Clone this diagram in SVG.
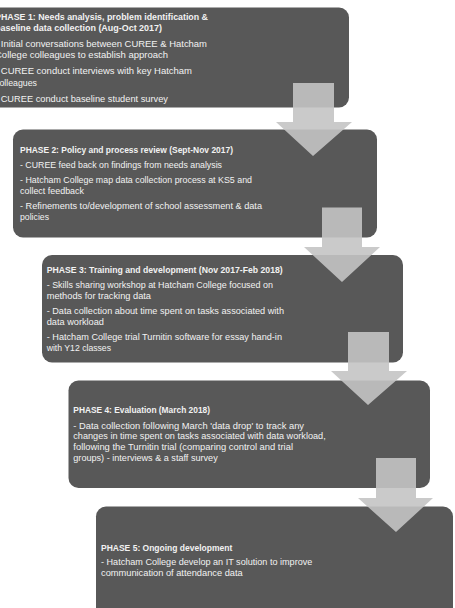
<svg xmlns="http://www.w3.org/2000/svg" width="455" height="608" viewBox="0 0 455 608">
<style>
.box{fill:#585858;}
.arr{fill:#c4c4c4;fill-opacity:0.9;}
text{font-family:"Liberation Sans",Arial,sans-serif;fill:#f2f2f2;}
.t{font-weight:bold;font-size:8.7px;}
.b{font-size:9px;}
.t1{font-weight:bold;font-size:9px;}
.b1{font-size:9.5px;}
</style>
<rect width="455" height="608" fill="#ffffff"/>
<g id="phase1">
<rect class="box" x="-15" y="7.5" width="364" height="100" rx="10"/>
<text class="t1" x="-5" y="20" textLength="213" lengthAdjust="spacingAndGlyphs">PHASE 1: Needs analysis, problem identification &amp;</text>
<text class="t1" x="-5" y="31" textLength="167" lengthAdjust="spacingAndGlyphs">baseline data collection (Aug-Oct 2017)</text>
<text class="b1" x="-5" y="47.3" textLength="212" lengthAdjust="spacingAndGlyphs">- Initial conversations between CUREE &amp; Hatcham</text>
<text class="b1" x="-5" y="58.3" textLength="173" lengthAdjust="spacingAndGlyphs">College colleagues to establish approach</text>
<text class="b1" x="-5" y="74.3" textLength="197" lengthAdjust="spacingAndGlyphs">- CUREE conduct interviews with key Hatcham</text>
<text class="b1" x="-5" y="85.6" textLength="42" lengthAdjust="spacingAndGlyphs">colleagues</text>
<text class="b1" x="-5" y="102.3" textLength="173" lengthAdjust="spacingAndGlyphs">- CUREE conduct baseline student survey</text>
</g>
<g id="phase2">
<rect class="box" x="13" y="129.5" width="364" height="108" rx="10"/>
<text class="t" x="20" y="152.5" textLength="213" lengthAdjust="spacingAndGlyphs">PHASE 2: Policy and process review (Sept-Nov 2017)</text>
<text class="b" x="20" y="168" textLength="202" lengthAdjust="spacingAndGlyphs">- CUREE feed back on findings from needs analysis</text>
<text class="b" x="20" y="183.2" textLength="232" lengthAdjust="spacingAndGlyphs">- Hatcham College map data collection process at KS5 and</text>
<text class="b" x="20" y="193.9" textLength="64" lengthAdjust="spacingAndGlyphs">collect feedback</text>
<text class="b" x="20" y="209.2" textLength="242" lengthAdjust="spacingAndGlyphs">- Refinements to/development of school assessment &amp; data</text>
<text class="b" x="20" y="219.9" textLength="29" lengthAdjust="spacingAndGlyphs">policies</text>
</g>
<g id="phase3">
<rect class="box" x="42" y="255" width="361" height="107.5" rx="10"/>
<text class="t" x="46.7" y="272.5" textLength="236" lengthAdjust="spacingAndGlyphs">PHASE 3: Training and development (Nov 2017-Feb 2018)</text>
<text class="b" x="46.7" y="288.2" textLength="226.3" lengthAdjust="spacingAndGlyphs">- Skills sharing workshop at Hatcham College focused on</text>
<text class="b" x="46.7" y="298.9" textLength="104.3" lengthAdjust="spacingAndGlyphs">methods for tracking data</text>
<text class="b" x="46.7" y="314.2" textLength="237.3" lengthAdjust="spacingAndGlyphs">- Data collection about time spent on tasks associated with</text>
<text class="b" x="46.7" y="324.9" textLength="57.3" lengthAdjust="spacingAndGlyphs">data workload</text>
<text class="b" x="46.7" y="339.9" textLength="235.3" lengthAdjust="spacingAndGlyphs">- Hatcham College trial Turnitin software for essay hand-in</text>
<text class="b" x="46.7" y="350.9" textLength="64.3" lengthAdjust="spacingAndGlyphs">with Y12 classes</text>
</g>
<g id="phase4">
<rect class="box" x="68.5" y="380.5" width="361.5" height="107.5" rx="10"/>
<text class="t" x="73.3" y="413.2" textLength="136.7" lengthAdjust="spacingAndGlyphs">PHASE 4: Evaluation (March 2018)</text>
<text class="b" x="73.3" y="428.5" textLength="230.7" lengthAdjust="spacingAndGlyphs">- Data collection following March 'data drop' to track any</text>
<text class="b" x="73.3" y="439.2" textLength="252.4" lengthAdjust="spacingAndGlyphs">changes in time spent on tasks associated with data workload,</text>
<text class="b" x="73.3" y="449.9" textLength="219.7" lengthAdjust="spacingAndGlyphs">following the Turnitin trial (comparing control and trial</text>
<text class="b" x="73.3" y="460.5" textLength="144.4" lengthAdjust="spacingAndGlyphs">groups) - interviews &amp; a staff survey</text>
</g>
<g id="phase5">
<rect class="box" x="96" y="506.5" width="357" height="115" rx="10"/>
<text class="t" x="101" y="550.5" textLength="131.3" lengthAdjust="spacingAndGlyphs">PHASE 5: Ongoing development</text>
<text class="b" x="101" y="565" textLength="211.3" lengthAdjust="spacingAndGlyphs">- Hatcham College develop an IT solution to improve</text>
<text class="b" x="101" y="576" textLength="141.7" lengthAdjust="spacingAndGlyphs">communication of attendance data</text>
</g>
<g id="connectors">
<polygon class="arr" points="293,83 334,83 334,122 352,122 313,156 276,122 293,122"/>
<polygon class="arr" points="322,207.5 362,207.5 362,247 380,247 342,282 304,247 322,247"/>
<polygon class="arr" points="348,332 389,332 389,371 407,371 368,405 331,371 348,371"/>
<polygon class="arr" points="376,458 416,458 416,498 433,498 396,532 358,498 376,498"/>
</g>
</svg>
